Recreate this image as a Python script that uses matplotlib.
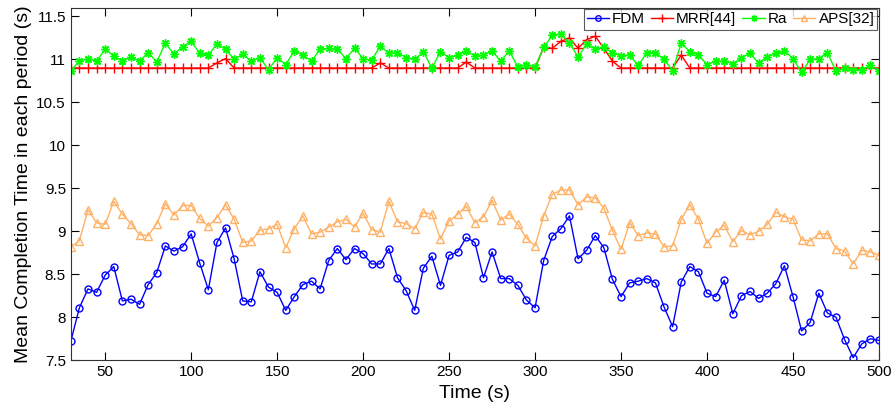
import numpy as np
import matplotlib
matplotlib.use("Agg")
import matplotlib.pyplot as plt

plt.rcParams['font.family'] = ['Liberation Sans', 'DejaVu Sans']

# time axis, one point every 5 s
t = np.arange(30, 505, 5)

fdm = [7.72, 8.11, 8.33, 8.29, 8.49, 8.59, 8.19, 8.21, 8.15, 8.38,
       8.52, 8.83, 8.77, 8.82, 8.97, 8.63, 8.32, 8.87, 9.04, 8.68,
       8.19, 8.18, 8.53, 8.35, 8.29, 8.08, 8.24, 8.38, 8.42, 8.33,
       8.66, 8.80, 8.67, 8.80, 8.74, 8.62, 8.62, 8.80, 8.46, 8.31,
       8.08, 8.57, 8.71, 8.37, 8.72, 8.76, 8.93, 8.87, 8.46, 8.76,
       8.45, 8.45, 8.37, 8.20, 8.11, 8.66, 8.94, 9.03, 9.18, 8.68,
       8.78, 8.95, 8.81, 8.44, 8.24, 8.40, 8.42, 8.45, 8.40, 8.12,
       7.89, 8.41, 8.59, 8.53, 8.28, 8.24, 8.43, 8.04, 8.25, 8.30,
       8.22, 8.28, 8.39, 8.60, 8.24, 7.84, 7.94, 8.28, 8.05, 8.00,
       7.74, 7.53, 7.69, 7.75, 7.73]

mrr = [10.90] * 17 + [10.96, 11.01] + [10.90] * 17 + [10.96] + [10.90] * 9 \
    + [10.97] + [10.90] * 8 + [11.14, 11.13, 11.21, 11.25, 11.13, 11.23, 11.27,
                               11.13, 10.98] + [10.90] * 7 + [11.05] + [10.90] * 23

ra = [10.87, 10.98, 11.01, 10.98, 11.12, 11.04, 10.98, 11.03, 10.98, 11.08,
      10.97, 11.19, 11.06, 11.15, 11.21, 11.07, 11.05, 11.18, 11.12, 11.00,
      11.06, 10.98, 11.02, 10.88, 11.02, 10.94, 11.10, 11.05, 10.98, 11.12,
      11.13, 11.12, 11.01, 11.13, 11.01, 10.99, 11.16, 11.07, 11.08, 11.02,
      11.00, 11.09, 10.90, 11.09, 11.02, 11.05, 11.10, 11.04, 11.05, 11.10,
      10.98, 11.10, 10.91, 10.94, 10.91, 11.14, 11.28, 11.30, 11.19, 11.03,
      11.18, 11.12, 11.14, 11.08, 11.04, 11.05, 10.93, 11.08, 11.08, 11.00,
      10.87, 11.19, 11.09, 11.05, 10.94, 10.98, 10.98, 10.95, 11.02, 11.07,
      10.96, 11.03, 11.07, 11.10, 11.01, 10.85, 11.00, 11.01, 11.08, 10.86,
      10.90, 10.88, 10.88, 10.93, 10.86]

aps = [8.82, 8.89, 9.25, 9.10, 9.08, 9.35, 9.20, 9.09, 8.96, 8.95,
       9.09, 9.32, 9.19, 9.30, 9.30, 9.15, 9.06, 9.16, 9.31, 9.14,
       8.87, 8.89, 9.01, 9.03, 9.08, 8.81, 9.03, 9.18, 8.97, 8.99,
       9.05, 9.11, 9.14, 9.05, 9.21, 9.02, 8.99, 9.35, 9.11, 9.09,
       9.03, 9.22, 9.20, 8.91, 9.12, 9.20, 9.29, 9.10, 9.17, 9.36,
       9.13, 9.20, 9.08, 8.92, 8.83, 9.18, 9.43, 9.48, 9.48, 9.31,
       9.40, 9.39, 9.27, 9.01, 8.79, 9.10, 8.95, 8.98, 8.97, 8.82,
       8.83, 9.14, 9.31, 9.14, 8.86, 8.99, 9.07, 8.88, 9.01, 8.96,
       9.00, 9.08, 9.22, 9.17, 9.14, 8.90, 8.89, 8.97, 8.97, 8.80,
       8.77, 8.62, 8.78, 8.76, 8.72]

fig = plt.figure(figsize=(8.96, 4.15), dpi=100)
ax = fig.add_axes([0.079, 0.132, 0.902, 0.849])

ax.plot(t, fdm, '-o', color='#0000FF', lw=1.0, ms=5, mfc='none', mew=1.0, label='FDM')
ax.plot(t, mrr, '-+', color='#FF0000', lw=1.0, ms=7, mew=1.0, label='MRR[44]')
# MATLAB style asterisk marker
ax.plot(t, ra, '-', marker=(8, 2, 0), color='#00FF00', lw=1.0, ms=6, mew=1.0, label='Ra')
ax.plot(t, aps, '-^', color='#FFB266', lw=1.0, ms=6, mfc='none', mew=1.0, label='APS[32]')

ax.set_xlim(30, 500)
ax.set_ylim(7.5, 11.6)
ax.set_xticks(np.arange(50, 501, 50))
ax.set_yticks(np.arange(7.5, 11.51, 0.5))
ax.set_yticklabels(['7.5', '8', '8.5', '9', '9.5', '10', '10.5', '11', '11.5'])
ax.tick_params(direction='in', top=True, right=True, length=6, labelsize=11, width=0.8)
for s in ax.spines.values():
    s.set_color('#333333')
    s.set_linewidth(0.8)

ax.set_xlabel('Time (s)', fontsize=14)
ax.set_ylabel('Mean Completion Time in each period (s)', fontsize=14, labelpad=3)

leg = ax.legend(loc='upper right', ncol=4, fontsize=11, frameon=True, fancybox=False,
                edgecolor='#333333', borderaxespad=0.1, handlelength=1.45,
                handletextpad=0.2, columnspacing=0.4, borderpad=0.2, markerscale=0.8)
leg.get_frame().set_linewidth(0.8)

fig.savefig('out.png', dpi=100)
